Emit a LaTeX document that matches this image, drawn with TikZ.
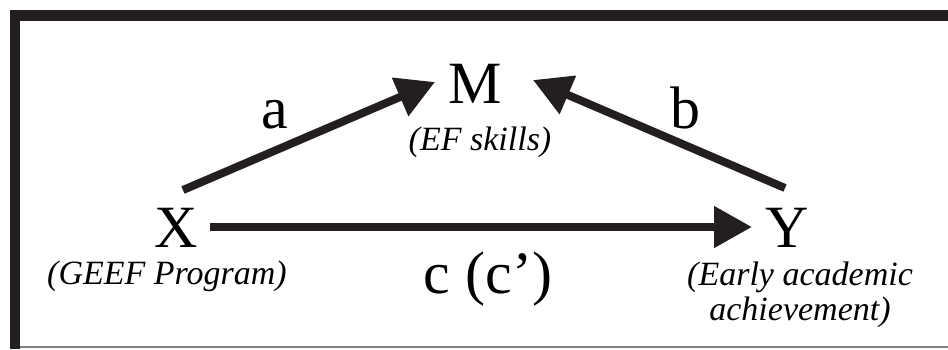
\documentclass[tikz,border=0pt]{standalone}
\usepackage{fontspec}
\setmainfont{Liberation Serif}
\usetikzlibrary{arrows.meta,calc}
\definecolor{ink}{RGB}{35,31,32}
\tikzset{
  var/.style={inner sep=0pt, font=\fontsize{30}{32}\selectfont},
  note/.style={inner sep=0pt, anchor=base, align=center, font=\fontsize{17}{17.5}\selectfont\itshape},
  coef/.style={inner sep=0pt, anchor=base, font=\fontsize{30}{32}\selectfont},
  path/.style={line width=4pt, ink, -{Triangle[length=19pt,width=20pt]}}
}
\begin{document}
\begin{tikzpicture}[x=0.5pt, y=-0.5pt]
    \useasboundingbox (0,0) rectangle (948,349);
    % frame
    \fill[ink] (10,10) rectangle (948,21);
    \fill[ink] (10,10) rectangle (20,349);
    \draw[gray, line width=1pt] (20,347) -- (948,347);

    % variables
    \node[var] (m) at (475,84) {M};
    \node[note] (mlab) at (480,150) {(EF skills)};

    \node[var] (x) at (176,228) {X};
    \node[note] (xlab) at (167,284) {(GEEF Program)};

    \node[var] (y) at (787,228) {Y};
    \node[note] (ylab) at (800,320) {(Early academic\\achievement)};

    % paths
    \coordinate (xa) at ($(x)+(7,-38)$);
    \coordinate (ma) at ($(m)+(-40,-2)$);
    \coordinate (yb) at ($(y)+(-2,-40)$);
    \coordinate (mb) at ($(m)+(58,-4)$);

    \draw[path] (xa) -- (ma);
    \node[coef] (a) at (275,128) {a};

    \draw[path] (yb) -- (mb);
    \node[coef] (b) at (685,128) {b};

    \draw[path] ($(x)+(34,-1)$) -- ($(y)+(-35,-1)$);
    \node[coef] (c) at (488,293) {c (c’)};
\end{tikzpicture}
\end{document}
